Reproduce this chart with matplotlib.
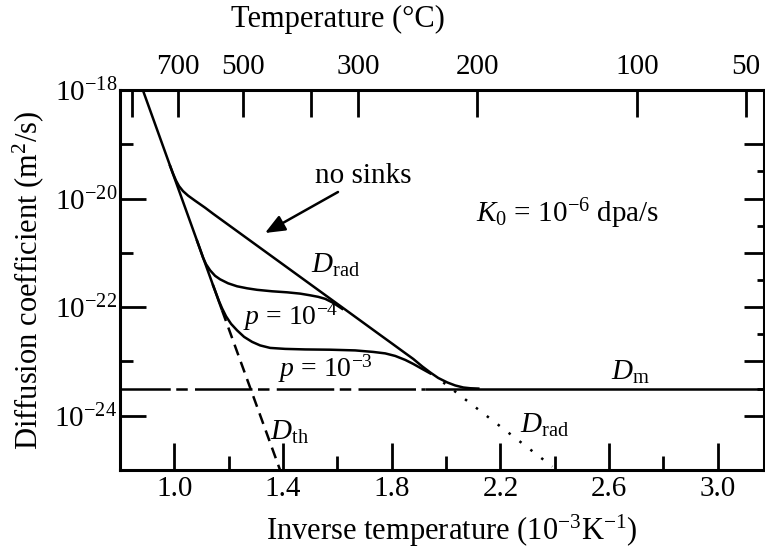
import matplotlib
matplotlib.use('Agg')
import matplotlib.pyplot as plt
from matplotlib.ticker import FixedLocator, NullFormatter, FixedFormatter, LogFormatterMathtext

plt.rcParams['font.family'] = ['Liberation Serif', 'DejaVu Serif']
plt.rcParams['mathtext.fontset'] = 'custom'
plt.rcParams['mathtext.rm'] = 'Liberation Serif'
plt.rcParams['mathtext.it'] = 'Liberation Serif:italic'
plt.rcParams['mathtext.bf'] = 'Liberation Serif:bold'

# ---- data: inverse temperature (1e-3/K) and log10 D (m^2/s)
dth_solid_x = [0.884, 1.1757]
dth_solid_logd = [-18.0, -22.06]
dth_dash_x = [1.1757, 1.389]
dth_dash_logd = [-22.06, -25.0]

nosinks_x = [0.9842, 0.9952, 1.0063, 1.0173, 1.0320, 1.0505, 1.0762, 1.1131, 1.1425,
             1.6471, 1.7576, 1.8018, 1.8424, 1.8792, 1.9123, 1.9418, 1.9713, 2.0044,
             2.0339, 2.0634, 2.0891, 2.1186]
nosinks_logd = [-19.397, -19.541, -19.670, -19.771, -19.863, -19.946, -20.039, -20.168, -20.279,
                -22.111, -22.513, -22.673, -22.821, -22.954, -23.092, -23.203, -23.305, -23.387,
                -23.443, -23.480, -23.494, -23.50]

p4_x = [1.0836, 1.0947, 1.1057, 1.1168, 1.1315, 1.1499, 1.1683, 1.1978, 1.2309, 1.2678,
        1.3046, 1.3599, 1.4151, 1.4630, 1.4998, 1.5293, 1.5551, 1.5845, 1.6177]
p4_logd = [-20.779, -20.934, -21.090, -21.210, -21.321, -21.423, -21.487, -21.561, -21.616, -21.653,
           -21.681, -21.708, -21.727, -21.751, -21.782, -21.810, -21.847, -21.921, -22.031]

p3_x = [1.1425, 1.1536, 1.1646, 1.1757, 1.1904, 1.2088, 1.2309, 1.2567, 1.2862, 1.3157,
        1.3525, 1.4077, 1.4814, 1.5735, 1.6656, 1.7319, 1.7761, 1.8129, 1.8497, 1.8792,
        1.9087, 1.9418]
p3_logd = [-21.598, -21.745, -21.893, -22.022, -22.170, -22.308, -22.428, -22.548, -22.640, -22.705,
           -22.751, -22.769, -22.779, -22.784, -22.797, -22.825, -22.852, -22.899, -22.972, -23.046,
           -23.129, -23.221]

drad_dot_x = [1.9897, 2.3912]
drad_dot_logd = [-23.387, -24.937]

dm_logd = -23.50
dm_dashdot_x = [0.8, 1.923]
dm_solid_x = [1.923, 3.17]

x_major = [1.0, 1.4, 1.8, 2.2, 2.6, 3.0]
x_minor = [1.2, 1.6, 2.0, 2.4, 2.8]
y_major_left = [1e-18, 1e-20, 1e-22, 1e-24]
y_minor_left = [1e-19, 1e-21, 1e-23, 1e-25]
y_major_right = [1e-19, 1e-20, 1e-21, 1e-22, 1e-23, 1e-24]
y_minor_right_exp = [-19.5, -20.5, -21.5, -22.5, -23.5]
top_tick_pos = [0.8442, 1.0136, 1.2530, 1.5035, 1.6766, 2.1149, 2.7042, 3.1020]
top_tick_labels = ['', '700', '500', '', '300', '200', '100', '50']

# ---- figure
W, H = 765, 549
fig = plt.figure(figsize=(W / 100, H / 100), dpi=100)
ax = fig.add_axes([120 / W, 1 - 470 / H, 644 / W, 380 / H])
ax.set_yscale('log')
ax.set_xlim(0.8, 3.17)
ax.set_ylim(1e-25, 1e-18)

LW = 1.8
def D(vals):
    return [10 ** v for v in vals]

ax.plot(dth_solid_x, D(dth_solid_logd), color='k', lw=LW, solid_capstyle='butt')
ax.plot(dth_dash_x, D(dth_dash_logd), color='k', lw=LW, linestyle=(0, (4.5, 2.8)))
ax.plot(nosinks_x, D(nosinks_logd), color='k', lw=LW, solid_joinstyle='round')
ax.plot(p4_x, D(p4_logd), color='k', lw=LW, solid_joinstyle='round')
ax.plot(p3_x, D(p3_logd), color='k', lw=LW, solid_joinstyle='round')
ax.plot(drad_dot_x, D(drad_dot_logd), color='k', lw=LW, linestyle=(0, (1, 4.5)))
ax.plot(dm_dashdot_x, D([dm_logd, dm_logd]), color='k', lw=LW,
        linestyle=(2.9, (23.0, 2.2, 4.6, 2.9)))
ax.plot(dm_solid_x, D([dm_logd, dm_logd]), color='k', lw=LW, solid_capstyle='butt')

# ---- spines and ticks
for s in ax.spines.values():
    s.set_linewidth(2.2)
FS = 21
FL = 22
FA = 21
ax.xaxis.set_major_locator(FixedLocator(x_major))
ax.xaxis.set_minor_locator(FixedLocator(x_minor))
ax.xaxis.set_major_formatter(FixedFormatter([f'{v:.1f}' for v in x_major]))
ax.xaxis.set_minor_formatter(NullFormatter())
ax.yaxis.set_major_locator(FixedLocator(y_major_left))
ax.yaxis.set_minor_locator(FixedLocator(y_minor_left))
ax.yaxis.set_major_formatter(LogFormatterMathtext())
ax.yaxis.set_minor_formatter(NullFormatter())
ax.tick_params(axis='x', which='major', direction='in', length=19.4, width=2.0, labelsize=FS, pad=4)
ax.tick_params(axis='x', which='minor', direction='in', length=10, width=2.0)
ax.tick_params(axis='y', which='major', direction='in', length=18.7, width=2.0, labelsize=FS, pad=2)
ax.tick_params(axis='y', which='minor', direction='in', length=9.4, width=2.0)
ax.tick_params(top=False, right=False, which='both')

axr = ax.twinx()
axr.set_yscale('log')
axr.set_ylim(1e-25, 1e-18)
axr.yaxis.set_major_locator(FixedLocator(y_major_right))
axr.yaxis.set_minor_locator(FixedLocator([10 ** e for e in y_minor_right_exp]))
axr.yaxis.set_major_formatter(NullFormatter())
axr.yaxis.set_minor_formatter(NullFormatter())
axr.tick_params(axis='y', which='major', direction='in', length=14.4, width=2.0)
axr.tick_params(axis='y', which='minor', direction='in', length=5.0, width=2.0)
for s in axr.spines.values():
    s.set_visible(False)

axt = ax.twiny()
axt.set_xlim(0.8, 3.17)
axt.xaxis.set_major_locator(FixedLocator(top_tick_pos))
axt.xaxis.set_major_formatter(FixedFormatter(top_tick_labels))
axt.xaxis.set_minor_locator(FixedLocator([]))
axt.tick_params(axis='x', which='major', direction='in', length=19.4, width=2.0, labelsize=FS, pad=7)
for s in axt.spines.values():
    s.set_visible(False)

# ---- texts (positions in figure pixels from the top-left)
def fp(x, y):
    return (x / W, 1 - y / H)

fig.text(*fp(338, 27), 'Temperature (°C)', fontsize=FL, ha='center', va='baseline')
fig.text(*fp(452, 540), r'Inverse temperature (10$^{-3}$K$^{-1}$)', fontsize=FL, ha='center', va='baseline')
fig.text(*fp(28, 280), r'Diffusion coefficient (m$^{2}$/s)', fontsize=FL, ha='center', va='center', rotation=90)

fig.text(*fp(315, 183), 'no sinks', fontsize=FA, ha='left', va='baseline')
ax.annotate('', xy=(265, H - 233), xytext=(338, H - 192), xycoords='figure pixels',
            textcoords='figure pixels',
            arrowprops=dict(arrowstyle='-|>,head_length=0.6,head_width=0.25', color='k', lw=1.8,
                            mutation_scale=20, shrinkA=0, shrinkB=0))
fig.text(*fp(311, 273), r'$D_{\mathrm{rad}}$', fontsize=FA, ha='left', va='baseline')
fig.text(*fp(476, 222), r'$K_0$ = 10$^{-6}$ dpa/s', fontsize=FA, ha='left', va='baseline')
fig.text(*fp(243, 325), r'$p$ = 10$^{-4}$', fontsize=FA - 1, ha='left', va='baseline')
fig.text(*fp(278, 377), r'$p$ = 10$^{-3}$', fontsize=FA - 1, ha='left', va='baseline')
fig.text(*fp(611, 380), r'$D_{\mathrm{m}}$', fontsize=FA, ha='left', va='baseline')
fig.text(*fp(520, 433), r'$D_{\mathrm{rad}}$', fontsize=FA, ha='left', va='baseline')
fig.text(*fp(270, 440), r'$D_{\mathrm{th}}$', fontsize=FA, ha='left', va='baseline')

fig.savefig('out.png', dpi=100)
